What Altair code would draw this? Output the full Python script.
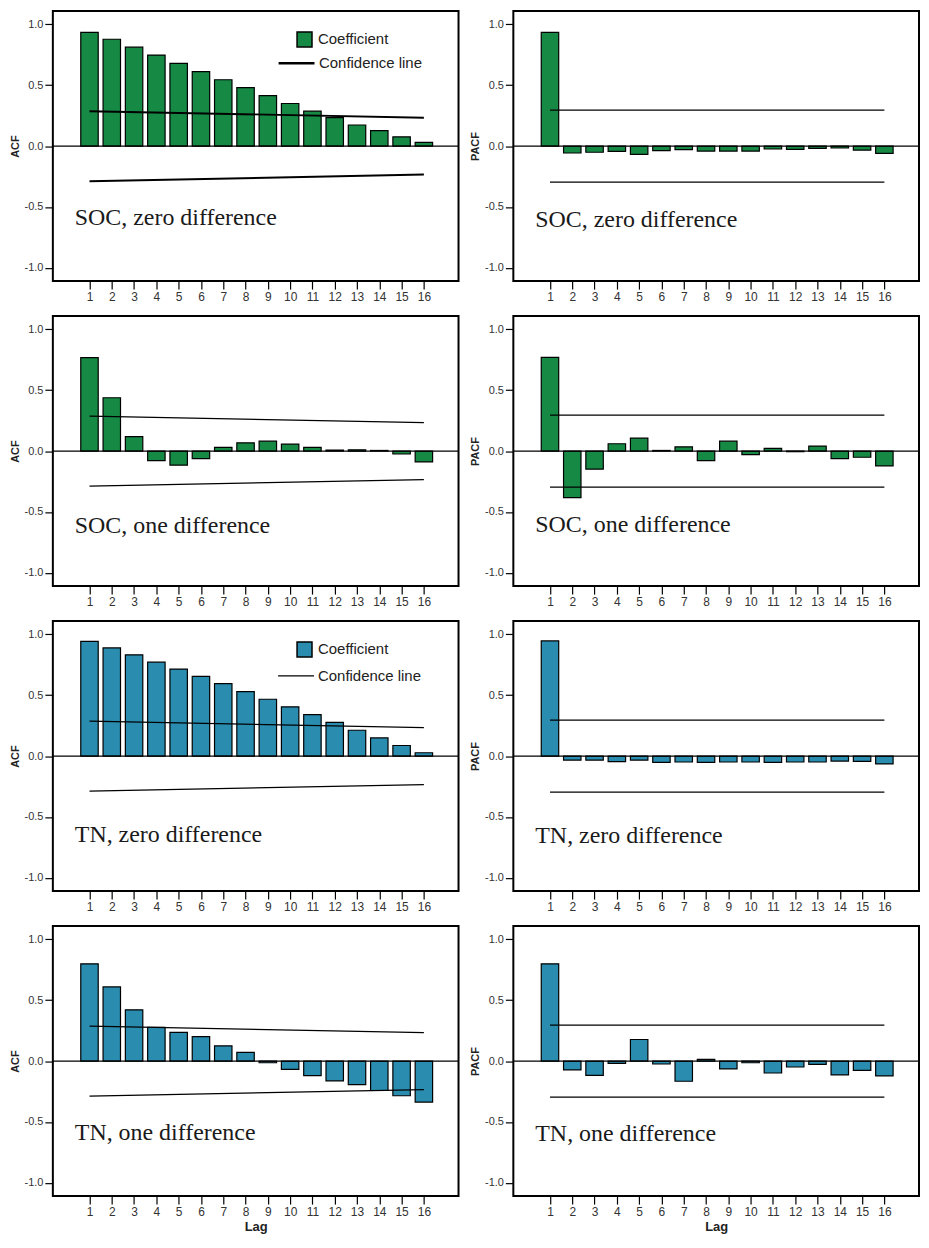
import altair as alt
import pandas as pd

lags = list(range(1, 17))

soc_zero_acf = [0.935, 0.878, 0.813, 0.748, 0.680, 0.612, 0.545, 0.480,
                0.415, 0.350, 0.287, 0.233, 0.173, 0.127, 0.076, 0.030]
soc_zero_pacf = [0.935, -0.057, -0.051, -0.043, -0.068, -0.038, -0.030, -0.041,
                 -0.041, -0.041, -0.024, -0.027, -0.019, -0.016, -0.033, -0.060]
soc_one_acf = [0.768, 0.438, 0.119, -0.078, -0.116, -0.062, 0.030, 0.068,
               0.081, 0.057, 0.030, 0.008, 0.011, 0.005, -0.024, -0.089]
soc_one_pacf = [0.770, -0.382, -0.149, 0.060, 0.106, 0.005, 0.035, -0.079,
                0.081, -0.030, 0.022, -0.005, 0.041, -0.062, -0.051, -0.122]
tn_zero_acf = [0.943, 0.889, 0.832, 0.772, 0.715, 0.655, 0.595, 0.530,
               0.467, 0.405, 0.340, 0.277, 0.212, 0.149, 0.087, 0.027]
tn_zero_pacf = [0.946, -0.033, -0.033, -0.046, -0.033, -0.052, -0.049, -0.052,
                -0.049, -0.049, -0.052, -0.049, -0.049, -0.041, -0.043, -0.065]
tn_one_acf = [0.799, 0.609, 0.421, 0.277, 0.236, 0.201, 0.125, 0.071,
              -0.014, -0.068, -0.120, -0.163, -0.193, -0.242, -0.285, -0.337]
tn_one_pacf = [0.799, -0.073, -0.117, -0.019, 0.177, -0.024, -0.166, 0.014,
               -0.065, -0.014, -0.098, -0.049, -0.027, -0.114, -0.076, -0.122]

ci_lags = [1, 16]
acf_upper = [0.287, 0.233]
acf_lower = [-0.289, -0.234]
pacf_upper = [0.296, 0.296]
pacf_lower = [-0.297, -0.297]

GREEN = "#168a44"
BLUE = "#2a8db0"
W, H = 407, 271


def panel(vals, kind, color, label, text_y, legend=False, xtitle=None, lw=1.3, leg_lw=1.3,
          leg_y=(20, 35)):
    df = pd.DataFrame({"Lag": lags, "value": vals, "series": "Coefficient"})
    up, lo = (acf_upper, acf_lower) if kind == "ACF" else (pacf_upper, pacf_lower)
    ci = pd.DataFrame({
        "Lag": ci_lags * 2,
        "value": up + lo,
        "side": ["upper"] * 2 + ["lower"] * 2,
        "series": "Confidence line",
    })
    x = alt.X("Lag:Q",
              scale=alt.Scale(domain=[-0.42, 17.33], nice=False, zero=False),
              axis=alt.Axis(values=lags, format="d", title=xtitle))
    y = alt.Y("value:Q",
              scale=alt.Scale(domain=[-1.11, 1.11], nice=False),
              axis=alt.Axis(values=[-1, -0.5, 0, 0.5, 1], format=".1f", title=kind,
                            labelExpr="replace(datum.label, '\u2212', '-')"))
    bar_mark = alt.Chart(df).mark_bar(size=17.5, stroke="black", strokeWidth=1.2)
    line_mark = alt.Chart(ci).mark_line(color="black", strokeWidth=lw)
    if legend:
        bars = bar_mark.encode(
            x=x, y=y,
            fill=alt.Fill("series:N",
                          scale=alt.Scale(domain=["Coefficient"], range=[color]),
                          legend=alt.Legend(orient="none", legendX=244, legendY=leg_y[0], title=None,
                                            symbolType="square", symbolSize=225,
                                            symbolStrokeColor="black", symbolStrokeWidth=1.5,
                                            labelFont="Liberation Sans", labelFontSize=15,
                                            labelColor="#222", labelOffset=5, padding=0)))
        lines = line_mark.encode(
            x=x, y=y, detail="side:N",
            stroke=alt.Stroke("series:N",
                              scale=alt.Scale(domain=["Confidence line"], range=["black"]),
                              legend=alt.Legend(orient="none", legendX=225, legendY=leg_y[1], title=None,
                                                symbolType="stroke", symbolSize=1296,
                                                symbolStrokeWidth=leg_lw,
                                                labelFont="Liberation Sans", labelFontSize=15,
                                                labelColor="#222", labelOffset=3, padding=0)))
    else:
        bars = bar_mark.encode(x=x, y=y, fill=alt.value(color))
        lines = line_mark.encode(x=x, y=y, detail="side:N")
    zero = alt.Chart(pd.DataFrame({"value": [0]})).mark_rule(
        color="black", strokeWidth=1.2).encode(y=y)
    text = alt.Chart(pd.DataFrame({"t": [label]})).mark_text(
        align="left", baseline="alphabetic", font="Liberation Serif", fontSize=24,
        color="#1a1a1a").encode(text="t:N", x=alt.value(22), y=alt.value(text_y))
    return alt.layer(bars, lines, zero, text).properties(width=W, height=H)


def row(left, right):
    return alt.hconcat(left, right, spacing=8).resolve_scale(
        fill="independent", stroke="independent").resolve_legend(
        fill="independent", stroke="independent")


rows = [
    row(panel(soc_zero_acf, "ACF", GREEN, "SOC, zero difference", 215, legend=True, lw=2, leg_lw=2.5,
              leg_y=(20, 33)),
        panel(soc_zero_pacf, "PACF", GREEN, "SOC, zero difference", 217)),
    row(panel(soc_one_acf, "ACF", GREEN, "SOC, one difference", 218),
        panel(soc_one_pacf, "PACF", GREEN, "SOC, one difference", 217)),
    row(panel(tn_zero_acf, "ACF", BLUE, "TN, zero difference", 222, legend=True, leg_y=(20, 36)),
        panel(tn_zero_pacf, "PACF", BLUE, "TN, zero difference", 223)),
    row(panel(tn_one_acf, "ACF", BLUE, "TN, one difference", 215, xtitle="Lag"),
        panel(tn_one_pacf, "PACF", BLUE, "TN, one difference", 216, xtitle="Lag")),
]

chart = alt.vconcat(*rows, spacing=12, padding=0, background="white").resolve_scale(
    fill="independent", stroke="independent").resolve_legend(
    fill="independent", stroke="independent").configure_view(
    stroke="black", strokeWidth=2).configure_axis(
    domain=False, grid=False, tickColor="black", tickSize=8, tickWidth=1.2,
    labelFont="Liberation Sans", labelColor="#333",
    titleFont="Liberation Sans", titleFontWeight="bold", titleColor="#222").configure_axisX(
    labelFontSize=12, labelPadding=2, titleFontSize=13, titlePadding=3).configure_axisY(
    labelFontSize=11, labelPadding=2, titleFontSize=11, titlePadding=4)

chart.save("out.html", embed_options={"renderer": "svg", "actions": False})
